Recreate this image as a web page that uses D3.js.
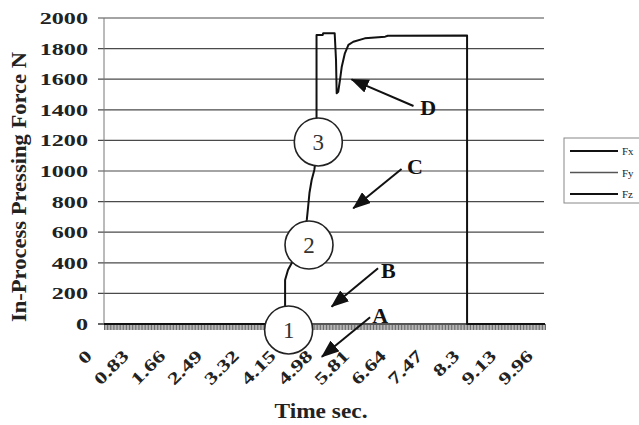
<!DOCTYPE html>
<html>
<head>
	<title>In-Process Pressing Force</title>
	<style>
		body { margin: 0; background: #fff; }
		svg text { font-family: "Liberation Serif", "Times New Roman", serif; }
	</style>
</head>
<body>
<svg id="chart" width="639" height="425"></svg>

<script src="https://cdnjs.cloudflare.com/ajax/libs/d3/7.8.5/d3.min.js"></script>
<script>

	// Fz trace (time in s, force in N)
	var fzTime = [0, 4.09, 4.09, 4.155, 4.24, 4.58, 4.61, 4.64, 4.69, 4.75, 4.78, 4.80, 4.80, 4.94, 4.95, 5.21, 5.24, 5.255, 5.29, 5.33, 5.37, 5.44, 5.52, 5.63, 5.89, 6.35, 6.41, 8.20, 8.20, 9.96];
	var fzForce = [0, 0, 288, 353, 399, 680, 765, 856, 941, 1007, 1072, 1346, 1889, 1889, 1900, 1900, 1725, 1508, 1518, 1595, 1682, 1769, 1824, 1845, 1867, 1878, 1884, 1886, 0, 0];
	// Fx and Fy stay on the zero line
	var fxTime = [0, 9.96];
	var fxForce = [0, 0];
	var fyTime = [0, 9.96];
	var fyForce = [0, 0];

	var seriesNames = ["Fx", "Fy", "Fz"];
	var seriesColors = ["#111", "#555", "#111"];

	var xTicks = [0, 0.83, 1.66, 2.49, 3.32, 4.15, 4.98, 5.81, 6.64, 7.47, 8.3, 9.13, 9.96];
	var xTickLabels = ["0", "0.83", "1.66", "2.49", "3.32", "4.15", "4.98", "5.81", "6.64", "7.47", "8.3", "9.13", "9.96"];
	var yTicks = [0, 200, 400, 600, 800, 1000, 1200, 1400, 1600, 1800, 2000];

	// numbered stage circles
	var stageLabels = ["1", "2", "3"];
	var stageTime = [4.17, 4.63, 4.84];
	var stageForce = [-39, 516, 1190];

	// lettered arrows: tail, tip and letter position
	var noteLetters = ["A", "B", "C", "D"];
	var noteFromTime = [6.01, 6.19, 6.72, 6.99];
	var noteFromForce = [44, 364, 1013, 1425];
	var noteToTime = [4.92, 5.14, 5.63, 5.59];
	var noteToForce = [-214, 113, 756, 1599];
	var noteTextTime = [6.24, 6.42, 7.02, 7.32];
	var noteTextForce = [7, 301, 980, 1366];

	var svg = d3.select("#chart");

	var x = d3.scaleLinear().domain([0, 9.96]).range([104, 545]);
	var y = d3.scaleLinear().domain([0, 2000]).range([324, 18]);

	function stretch(sel, factor) {
		sel.each(function() {
			var len = this.getComputedTextLength();
			d3.select(this).attr("textLength", len * factor).attr("lengthAdjust", "spacingAndGlyphs");
		});
	}

	var defs = svg.append("defs");
	defs.append("marker")
		.attr("id", "head")
		.attr("markerUnits", "userSpaceOnUse")
		.attr("viewBox", "0 0 18 14")
		.attr("refX", 17)
		.attr("refY", 7)
		.attr("markerWidth", 18)
		.attr("markerHeight", 14)
		.attr("orient", "auto")
	  .append("path")
		.attr("d", "M0,0 L18,7 L0,14 Z")
		.attr("fill", "#111");

	// gridlines
	svg.append("g").selectAll("line")
		.data(yTicks)
		.join("line")
		.attr("x1", x.range()[0] - 6)
		.attr("x2", x.range()[1] - 1)
		.attr("y1", function(d) { return y(d); })
		.attr("y2", function(d) { return y(d); })
		.attr("stroke", function(d) { return d == 0 ? "#333" : "#4a4a4a"; })
		.attr("stroke-width", function(d) { return d == 0 ? 1.6 : 1.2; });

	// y axis line + labels
	svg.append("line")
		.attr("x1", x.range()[0]).attr("x2", x.range()[0])
		.attr("y1", y(2000)).attr("y2", y(0))
		.attr("stroke", "#777").attr("stroke-width", 1);

	var yLabels = svg.append("g").selectAll("text")
		.data(yTicks)
		.join("text")
		.attr("x", 88)
		.attr("y", function(d) { return y(d) + 6; })
		.attr("text-anchor", "end")
		.attr("font-size", 17)
		.attr("font-weight", "bold")
		.attr("fill", "#222")
		.text(function(d) { return d; });
	stretch(yLabels, 1.42);

	// dense hatch below the zero line
	var hatch = svg.append("g")
		.attr("transform", "translate(0," + y(0) + ")")
		.call(d3.axisBottom(x).tickValues(d3.range(0, 9.97, 0.0332)).tickSize(6).tickFormat(""));
	hatch.select(".domain").remove();
	hatch.selectAll("line").attr("stroke", "#444").attr("stroke-width", 0.8);

	// x tick labels
	var xLabels = svg.append("g").selectAll("text")
		.data(xTicks)
		.join("text")
		.attr("transform", function(d) { return "translate(" + (x(d) - 11) + ",357) rotate(-45)"; })
		.attr("text-anchor", "end")
		.attr("font-size", 17)
		.attr("font-weight", "bold")
		.attr("fill", "#222")
		.text(function(d, i) { return xTickLabels[i]; });
	stretch(xLabels, 1.38);

	// series
	var line = d3.line()
		.x(function(d) { return x(d[0]); })
		.y(function(d) { return y(d[1]); });

	var series = [
		d3.zip(fxTime, fxForce),
		d3.zip(fyTime, fyForce),
		d3.zip(fzTime, fzForce)
	];

	svg.append("g").selectAll("path")
		.data(series)
		.join("path")
		.attr("fill", "none")
		.attr("stroke", function(d, i) { return seriesColors[i]; })
		.attr("stroke-width", 2)
		.attr("stroke-linejoin", "round")
		.attr("d", line);

	// stage circles
	var stages = svg.append("g").selectAll("g")
		.data(stageLabels)
		.join("g")
		.attr("transform", function(d, i) { return "translate(" + x(stageTime[i]) + "," + y(stageForce[i]) + ")"; });
	stages.append("circle")
		.attr("r", 24)
		.attr("fill", "#fff")
		.attr("stroke", "#222")
		.attr("stroke-width", 1.6);
	stages.append("text")
		.attr("text-anchor", "middle")
		.attr("y", 8)
		.attr("font-size", 23)
		.attr("fill", "#333")
		.text(function(d) { return d; });

	// lettered arrows
	var notes = svg.append("g").selectAll("g")
		.data(noteLetters)
		.join("g");
	notes.append("line")
		.attr("x1", function(d, i) { return x(noteFromTime[i]); })
		.attr("y1", function(d, i) { return y(noteFromForce[i]); })
		.attr("x2", function(d, i) { return x(noteToTime[i]); })
		.attr("y2", function(d, i) { return y(noteToForce[i]); })
		.attr("stroke", "#111")
		.attr("stroke-width", 2)
		.attr("marker-end", "url(#head)");
	notes.append("text")
		.attr("x", function(d, i) { return x(noteTextTime[i]); })
		.attr("y", function(d, i) { return y(noteTextForce[i]); })
		.attr("text-anchor", "middle")
		.attr("font-size", 22)
		.attr("font-weight", "bold")
		.attr("fill", "#111")
		.text(function(d) { return d; });

	// axis titles
	var yTitle = svg.append("text")
		.attr("transform", "translate(26,187) rotate(-90)")
		.attr("text-anchor", "middle")
		.attr("font-size", 20)
		.attr("font-weight", "bold")
		.attr("fill", "#222")
		.text("In-Process Pressing Force N");
	yTitle.attr("textLength", 270).attr("lengthAdjust", "spacingAndGlyphs");

	svg.append("text")
		.attr("x", 321)
		.attr("y", 418)
		.attr("text-anchor", "middle")
		.attr("font-size", 20)
		.attr("font-weight", "bold")
		.attr("fill", "#222")
		.attr("textLength", 93)
		.attr("lengthAdjust", "spacingAndGlyphs")
		.text("Time sec.");

	// legend
	var legend = svg.append("g").attr("transform", "translate(564,138)");
	legend.append("rect")
		.attr("width", 90)
		.attr("height", 65)
		.attr("fill", "#fff")
		.attr("stroke", "#888")
		.attr("stroke-width", 1);
	var items = legend.selectAll("g")
		.data(seriesNames)
		.join("g")
		.attr("transform", function(d, i) { return "translate(0," + (13 + i * 21.5) + ")"; });
	items.append("line")
		.attr("x1", 6).attr("x2", 54)
		.attr("stroke", function(d, i) { return seriesColors[i]; })
		.attr("stroke-width", function(d, i) { return i == 1 ? 1.5 : 2; });
	items.append("text")
		.attr("x", 58)
		.attr("y", 4)
		.attr("font-size", 11)
		.attr("fill", "#222")
		.text(function(d) { return d; });

</script>
</body>
</html>
